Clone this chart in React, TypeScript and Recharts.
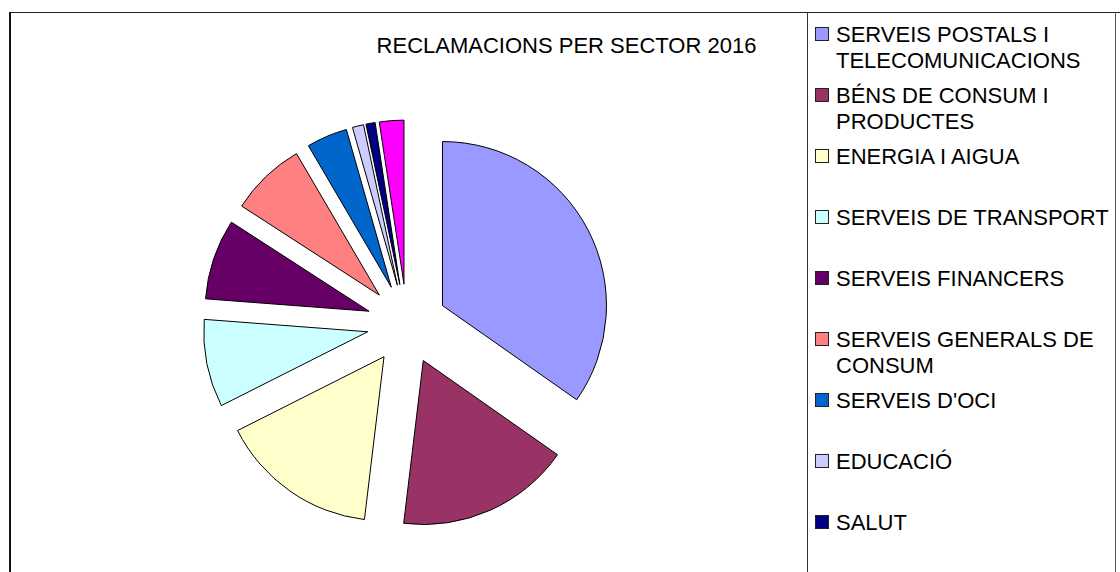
import { Legend, Pie, PieChart, Sector } from "recharts";

const sectors = [
  "SERVEIS POSTALS I TELECOMUNICACIONS",
  "BÉNS DE CONSUM I PRODUCTES",
  "ENERGIA I AIGUA",
  "SERVEIS DE TRANSPORT",
  "SERVEIS FINANCERS",
  "SERVEIS GENERALS DE CONSUM",
  "SERVEIS D'OCI",
  "EDUCACIÓ",
  "SALUT",
  "ALTRES",
];
const shares = [34.6, 17.1, 15.6, 8.6, 7.9, 7.4, 4.0, 1.1, 0.9, 2.4];
const colors = ["#9999ff", "#993366", "#ffffcc", "#ccffff", "#660066", "#ff8080", "#0066cc", "#ccccff", "#000080", "#ff00ff"];

const data = sectors.map((name, i) => ({ name, value: shares[i] }));

// the last legend row falls below the visible area in the original, so only these are listed
const VISIBLE_LEGEND_ROWS = 9;
const EXPLODE = 40;
const FONT = "'Liberation Sans', Arial, sans-serif";

// draws each slice pushed out along its middle angle
function ExplodedSlice(props: any) {
  const { cx, cy, innerRadius, outerRadius, startAngle, endAngle, index } = props;
  const mid = ((startAngle + endAngle) / 2) * (Math.PI / 180);
  const dx = EXPLODE * Math.cos(mid);
  const dy = -EXPLODE * Math.sin(mid);
  return (
    <Sector
      cx={cx + dx}
      cy={cy + dy}
      innerRadius={innerRadius}
      outerRadius={outerRadius}
      startAngle={startAngle}
      endAngle={endAngle}
      fill={colors[index]}
      stroke="#000"
      strokeWidth={1}
    />
  );
}

function LegendBox() {
  return (
    <div
      style={{
        width: 309,
        height: 640,
        boxSizing: "border-box",
        borderLeft: "1px solid #333",
        borderRight: "1px solid #555",
        paddingTop: 9.5,
        fontFamily: FONT,
      }}
    >
      {sectors.slice(0, VISIBLE_LEGEND_ROWS).map((name, i) => (
        <div key={name} style={{ position: "relative", height: 61, paddingLeft: 28 }}>
          <span
            style={{
              position: "absolute",
              left: 7,
              top: 5.5,
              width: 12,
              height: 12,
              background: colors[i],
              border: "1px solid #222",
            }}
          />
          <div style={{ fontSize: 22, lineHeight: "26px", width: 279, color: "#000" }}>{name}</div>
        </div>
      ))}
    </div>
  );
}

export default function App() {
  return (
    <div
      style={{
        position: "absolute",
        left: 0,
        top: 0,
        width: 1120,
        height: 572,
        overflow: "hidden",
        background: "#fff",
        fontFamily: FONT,
      }}
    >
      <div
        style={{
          position: "absolute",
          left: 9,
          top: 12,
          width: 1400,
          height: 900,
          borderLeft: "2px solid #111",
          borderTop: "1px solid #222",
        }}
      />
      <div
        style={{
          position: "absolute",
          left: 366,
          top: 32.5,
          width: 401,
          textAlign: "center",
          fontSize: 22,
          lineHeight: "26px",
          color: "#000",
        }}
      >
        RECLAMACIONS PER SECTOR 2016
      </div>
      <div style={{ position: "absolute", left: 0, top: 0 }}>
        <PieChart width={1120} height={572} margin={{ top: 0, right: 0, bottom: 0, left: 0 }}>
          <Pie
            data={data}
            dataKey="value"
            nameKey="name"
            cx={407}
            cy={324}
            outerRadius={164}
            startAngle={90}
            endAngle={-270}
            fill="none"
            stroke="none"
            label={ExplodedSlice}
            labelLine={false}
            isAnimationActive={false}
          />
          <Legend
            layout="vertical"
            align="right"
            verticalAlign="top"
            content={LegendBox}
            wrapperStyle={{ left: 807, top: 12, width: 309, height: 640 }}
          />
        </PieChart>
      </div>
    </div>
  );
}
